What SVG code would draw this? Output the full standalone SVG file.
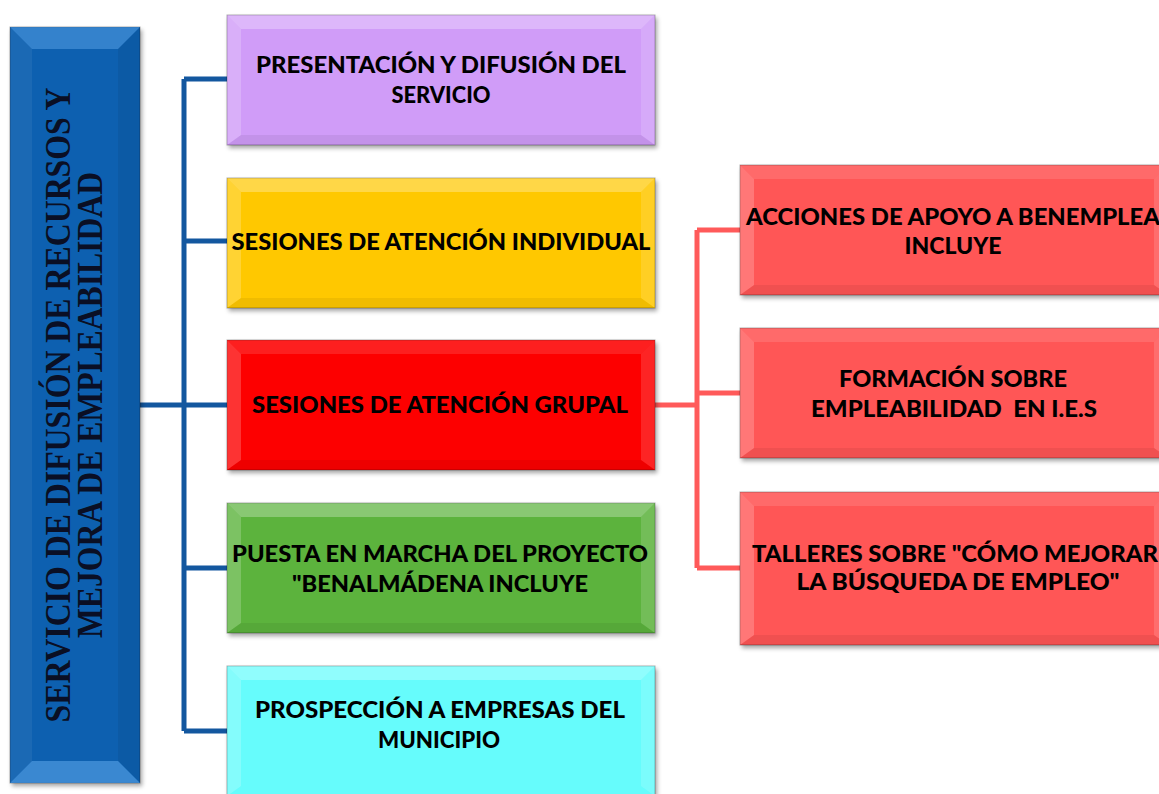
<svg xmlns="http://www.w3.org/2000/svg" width="1159" height="794" viewBox="0 0 1159 794">
<defs>
<filter id="sh" x="-5%" y="-5%" width="115%" height="120%">
<feDropShadow dx="2" dy="3" stdDeviation="2" flood-color="#000" flood-opacity="0.35"/>
</filter>
<style>
.box{stroke:rgba(0,0,0,0.3);stroke-width:1;filter:url(#sh)}
.bt{fill:#fff;fill-opacity:0.28}
.bl{fill:#fff;fill-opacity:0.2}
.br{fill:#fff;fill-opacity:0.14}
.bb{fill:#000;fill-opacity:0.06}
.lbl{font-family:Lato,"Open Sans","Liberation Sans",sans-serif;font-weight:900;font-size:23px;fill:#000;text-anchor:middle;white-space:pre}
.ttl{font-family:"Liberation Serif","Times New Roman",serif;font-weight:bold;font-size:35px;fill:#0a0f24;text-anchor:middle}
.cb{fill:none;stroke:#13579f;stroke-width:5}
.cr{fill:none;stroke:#ff5a5a;stroke-width:5}
</style>
</defs>
<rect width="1159" height="794" fill="#fff"/>

<g id="connectors">
<path class="cb" d="M140 405H184M184 79V731M184 79H227M184 241H227M184 405H227M184 568H227M184 731H227"/>
<path class="cr" d="M655 405H697M697 230V568M697 230H740M697 393H740M697 568H740"/>
</g>

<g id="root">
<rect class="box" x="10" y="27" width="130" height="756" fill="#0f60b0"/>
<polygon points="10,27 140,27 118,49 32,49" fill="#4f9ae0" fill-opacity="0.6"/>
<polygon class="bl" points="10,27 32,49 32,761 10,783" style="fill-opacity:0.06"/>
<polygon class="br" points="140,27 140,783 118,761 118,49" style="fill:#000;fill-opacity:0.06"/>
<polygon points="10,783 32,761 118,761 140,783" fill="#4f9ae0" fill-opacity="0.7"/>
<text class="ttl" transform="translate(70 405) rotate(-90)" textLength="635" lengthAdjust="spacingAndGlyphs">SERVICIO DE DIFUSIÓN DE RECURSOS Y</text>
<text class="ttl" transform="translate(102 405) rotate(-90)" textLength="466" lengthAdjust="spacingAndGlyphs">MEJORA DE EMPLEABILIDAD</text>
</g>

<g id="n1">
<rect class="box" x="227" y="15" width="428" height="130" fill="#d09cf8"/>
<polygon class="bt" points="227,15 655,15 641,29 241,29"/>
<polygon class="bl" points="227,15 241,29 241,135 227,145"/>
<polygon class="br" points="655,15 655,145 641,135 641,29"/>
<polygon class="bb" points="227,145 241,135 641,135 655,145"/>
<text class="lbl" x="441" y="73" textLength="370" lengthAdjust="spacingAndGlyphs">PRESENTACIÓN Y DIFUSIÓN DEL</text>
<text class="lbl" x="441" y="103" textLength="99" lengthAdjust="spacingAndGlyphs">SERVICIO</text>
</g>

<g id="n2">
<rect class="box" x="227" y="178" width="428" height="130" fill="#ffc800"/>
<polygon class="bt" points="227,178 655,178 641,192 241,192"/>
<polygon class="bl" points="227,178 241,192 241,298 227,308"/>
<polygon class="br" points="655,178 655,308 641,298 641,192"/>
<polygon class="bb" points="227,308 241,298 641,298 655,308"/>
<text class="lbl" x="441" y="250" textLength="419" lengthAdjust="spacingAndGlyphs">SESIONES DE ATENCIÓN INDIVIDUAL</text>
</g>

<g id="n3">
<rect class="box" x="227" y="340" width="428" height="130" fill="#fd0000"/>
<polygon class="bt" points="227,340 655,340 641,354 241,354" style="fill-opacity:0.12"/>
<polygon class="bl" points="227,340 241,354 241,460 227,470"/>
<polygon class="br" points="655,340 655,470 641,460 641,354"/>
<polygon class="bb" points="227,470 241,460 641,460 655,470"/>
<text class="lbl" x="440" y="413" textLength="376" lengthAdjust="spacingAndGlyphs">SESIONES DE ATENCIÓN GRUPAL</text>
</g>

<g id="n4">
<rect class="box" x="227" y="503" width="428" height="130" fill="#5cb33e"/>
<polygon class="bt" points="227,503 655,503 641,517 241,517"/>
<polygon class="bl" points="227,503 241,517 241,623 227,633"/>
<polygon class="br" points="655,503 655,633 641,623 641,517"/>
<polygon class="bb" points="227,633 241,623 641,623 655,633"/>
<text class="lbl" x="440" y="562" textLength="416" lengthAdjust="spacingAndGlyphs">PUESTA EN MARCHA DEL PROYECTO</text>
<text class="lbl" x="440" y="592" textLength="296" lengthAdjust="spacingAndGlyphs">"BENALMÁDENA INCLUYE</text>
</g>

<g id="n5">
<rect class="box" x="227" y="666" width="428" height="130" fill="#66fcfc"/>
<polygon class="bt" points="227,666 655,666 641,680 241,680"/>
<polygon class="bl" points="227,666 241,680 241,786 227,796"/>
<polygon class="br" points="655,666 655,796 641,786 641,680"/>
<text class="lbl" x="440" y="718" textLength="370" lengthAdjust="spacingAndGlyphs">PROSPECCIÓN A EMPRESAS DEL</text>
<text class="lbl" x="439" y="748" textLength="122" lengthAdjust="spacingAndGlyphs">MUNICIPIO</text>
</g>

<g id="n6">
<rect class="box" x="740" y="165" width="428" height="130" fill="#ff5757"/>
<polygon class="bt" points="740,165 1168,165 1154,179 754,179" style="fill-opacity:0.12"/>
<polygon class="bl" points="740,165 754,179 754,285 740,295"/>
<polygon class="br" points="1168,165 1168,295 1154,285 1154,179"/>
<polygon class="bb" points="740,295 754,285 1154,285 1168,295"/>
<text class="lbl" x="953" y="225" textLength="414" lengthAdjust="spacingAndGlyphs">ACCIONES DE APOYO A BENEMPLEA</text>
<text class="lbl" x="953" y="254" textLength="97" lengthAdjust="spacingAndGlyphs">INCLUYE</text>
</g>

<g id="n7">
<rect class="box" x="740" y="328" width="428" height="130" fill="#ff5757"/>
<polygon class="bt" points="740,328 1168,328 1154,342 754,342" style="fill-opacity:0.12"/>
<polygon class="bl" points="740,328 754,342 754,448 740,458"/>
<polygon class="br" points="1168,328 1168,458 1154,448 1154,342"/>
<polygon class="bb" points="740,458 754,448 1154,448 1168,458"/>
<text class="lbl" x="953" y="387" textLength="228" lengthAdjust="spacingAndGlyphs">FORMACIÓN SOBRE</text>
<text class="lbl" x="954" y="417" textLength="286" lengthAdjust="spacingAndGlyphs">EMPLEABILIDAD  EN I.E.S</text>
</g>

<g id="n8">
<rect class="box" x="740" y="492" width="428" height="153" fill="#ff5757"/>
<polygon class="bt" points="740,492 1168,492 1154,506 754,506" style="fill-opacity:0.12"/>
<polygon class="bl" points="740,492 754,506 754,635 740,645"/>
<polygon class="br" points="1168,492 1168,645 1154,635 1154,506"/>
<polygon class="bb" points="740,645 754,635 1154,635 1168,645"/>
<text class="lbl" x="955" y="562" textLength="406" lengthAdjust="spacingAndGlyphs">TALLERES SOBRE "CÓMO MEJORAR</text>
<text class="lbl" x="958" y="590" textLength="323" lengthAdjust="spacingAndGlyphs">LA BÚSQUEDA DE EMPLEO"</text>
</g>
</svg>
